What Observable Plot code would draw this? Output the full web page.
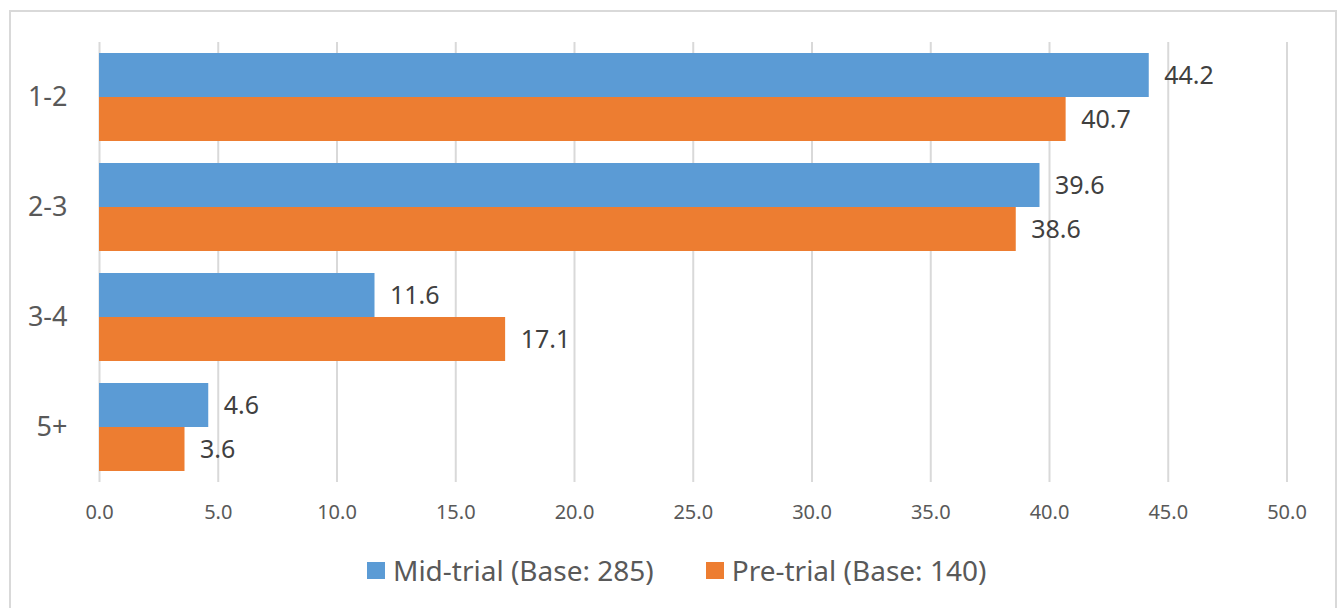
<!DOCTYPE html>
<html>
<head>
<meta charset="utf-8">
<script src="https://cdn.jsdelivr.net/npm/d3@7"></script>
<script src="https://cdn.jsdelivr.net/npm/@observablehq/plot@0.6"></script>
<style>
  html, body { margin: 0; padding: 0; background: #fff; width: 1344px; height: 608px; overflow: hidden; font-family: "Noto Sans", sans-serif; }
  #frame { position: absolute; left: 9px; top: 10px; width: 1328px; height: 620px; border: 2px solid #d9d9d9; box-sizing: border-box; }
  #chart { position: absolute; left: 0; top: 0; }
  #legend { position: absolute; left: 367px; top: 553px; height: 34px; display: flex; align-items: center; font-size: 28px; line-height: 34px; color: #595959; white-space: nowrap; }
  .item { display: flex; align-items: center; margin-right: 52px; }
  .swatch { width: 18px; height: 17px; margin-right: 8px; }
</style>
</head>
<body>
<div id="frame"></div>
<div id="chart"></div>
<div id="legend"></div>
<script>
const categories = ["1-2", "2-3", "3-4", "5+"];
const seriesNames = ["Mid-trial (Base: 285)", "Pre-trial (Base: 140)"];
const midTrial = [44.2, 39.6, 11.6, 4.6];
const preTrial = [40.7, 38.6, 17.1, 3.6];
const xTicks = [0, 5, 10, 15, 20, 25, 30, 35, 40, 45, 50];
const colors = ["#5B9BD5", "#ED7D31"];

const rows = [];
categories.forEach((c, i) => {
  rows.push({category: c, series: seriesNames[0], value: midTrial[i]});
  rows.push({category: c, series: seriesNames[1], value: preTrial[i]});
});

const chart = Plot.plot({
  width: 1344,
  height: 540,
  marginLeft: 99,
  marginRight: 57.5,
  marginTop: 40,
  marginBottom: 57,
  style: {fontFamily: "'Noto Sans', sans-serif", background: "transparent"},
  x: {domain: [0, 50], ticks: xTicks},
  y: {domain: seriesNames, paddingInner: 0, paddingOuter: 0.25, axis: null},
  fy: {domain: categories, padding: 0, label: null, axis: null},
  color: {domain: seriesNames, range: colors},
  marks: [
    Plot.gridX(xTicks, {stroke: "#d9d9d9", strokeOpacity: 1, strokeWidth: 2}),
    Plot.barX(rows, {x: "value", y: "series", fy: "category", fill: "series"}),
    Plot.text(rows, {x: "value", y: "series", fy: "category", text: d => d.value.toFixed(1),
      textAnchor: "start", dx: 15, fontSize: 25, fill: "#404040"}),
    Plot.axisX(xTicks, {tickSize: 0, tickPadding: 22, fontSize: 20, color: "#595959",
      tickFormat: d3.format(".1f"), label: null}),
    Plot.axisFy({anchor: "left", tickSize: 0, tickPadding: 32, fontSize: 27, color: "#595959", label: null})
  ]
});
document.getElementById("chart").appendChild(chart);

const legend = document.getElementById("legend");
seriesNames.forEach((name, i) => {
  const item = document.createElement("div");
  item.className = "item";
  const sw = document.createElement("div");
  sw.className = "swatch";
  sw.style.background = colors[i];
  const label = document.createElement("span");
  label.textContent = name;
  item.appendChild(sw);
  item.appendChild(label);
  legend.appendChild(item);
});
</script>
</body>
</html>
